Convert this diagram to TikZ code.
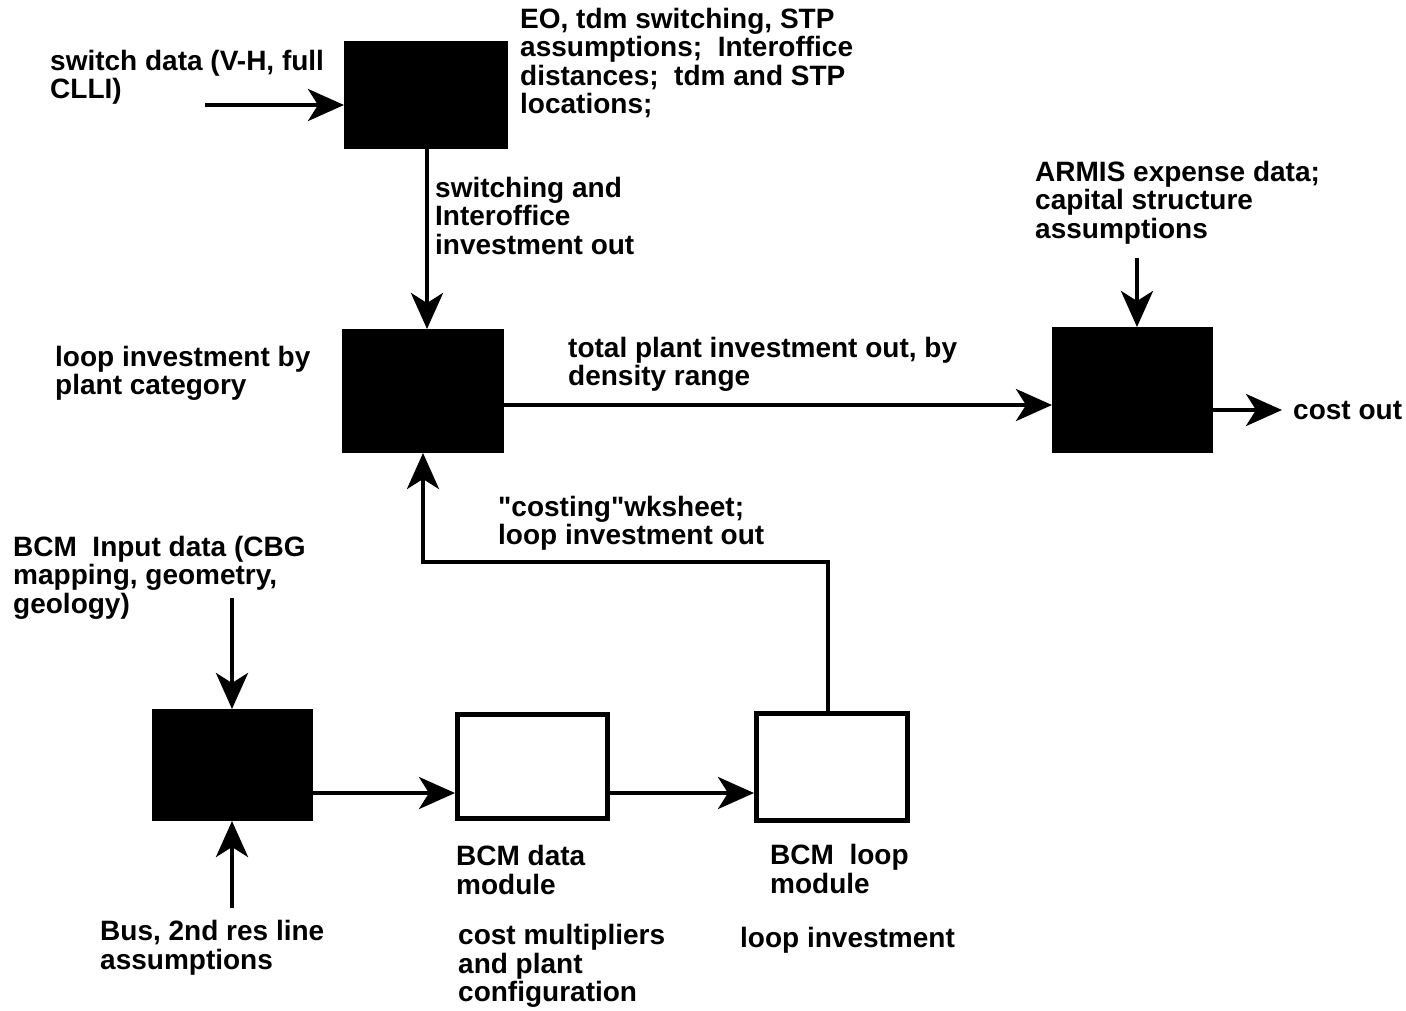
\documentclass[tikz,border=0pt]{standalone}
\usepackage{fontspec}
\setmainfont{Liberation Sans}[Ligatures=TeXOff]
\usetikzlibrary{arrows.meta}
\begin{document}
\begin{tikzpicture}[x=1pt,y=-1pt,
  blk/.style={draw=black,fill=black,line width=2pt,minimum width=#1,inner sep=0pt},
  wbox/.style={draw=black,fill=white,line width=5pt,inner sep=0pt},
  lbl/.style={anchor=north west,align=left,inner sep=0pt,font=\fontsize{28}{28.5}\selectfont\bfseries},
  conn/.style={line width=4pt,-{Stealth[length=36pt,width=32pt,inset=10pt]}}]
\useasboundingbox (0,0) rectangle (1406,1010);
% boxes
\node[blk=162pt,minimum height=106pt] (b1) at (426,95) {};
\node[blk=160pt,minimum height=122pt] (b2) at (423,391) {};
\node[blk=159pt,minimum height=124pt] (b3) at (1132.5,390) {};
\node[blk=159pt,minimum height=110pt] (b4) at (232.5,765) {};
\node[wbox,minimum width=150pt,minimum height=104pt] (b5) at (532.5,766.5) {};
\node[wbox,minimum width=151pt,minimum height=107pt] (b6) at (832,767) {};
% free ends
\coordinate (swin) at (205,105);
\coordinate (armin) at (1137,258);
\coordinate (costend) at (1282,410);
\coordinate (bcmin) at (232,598);
\coordinate (busin) at (232,908);
\coordinate (corner1) at (828,562);
\coordinate (corner2) at (423,562);
% connectors
\draw[conn] (swin) -- (swin -| b1.west);
\draw[conn] (b1.south -| 427,0) -- (b2.north -| 427,0);
\draw[conn] (b2.east |- 0,405) -- (b3.west |- 0,405);
\draw[conn] (b3.east |- 0,410) -- (costend);
\draw[conn] (armin) -- (armin |- b3.north);
\draw[conn] (b6.north -| corner1) -- (corner1) -- (corner2) -- (corner2 |- b2.south);
\draw[conn] (bcmin) -- (bcmin |- b4.north);
\draw[conn] (busin) -- (busin |- b4.south);
\draw[conn] (b4.east |- 0,793) -- (b5.west |- 0,793);
\draw[conn] (b5.east |- 0,793) -- (b6.west |- 0,793);
% labels
\node[lbl] (t1) at (50,50) {switch data (V-H, full\\CLLI)};
\node[lbl] (t2) at (520,8) {EO, tdm switching, STP\\assumptions;\ \ Interoffice\\distances;\ \ tdm and STP\\locations;};
\node[lbl] (t3) at (435,177) {switching and\\Interoffice\\investment out};
\node[lbl] (t4) at (1035,161) {ARMIS expense data;\\capital structure\\assumptions};
\node[lbl] (t5) at (55,346) {loop investment by\\plant category};
\node[lbl] (t6) at (568,337) {total plant investment out, by\\density range};
\node[lbl] (t7) at (1293,401) {cost out};
\node[lbl] (t8) at (498,496) {"costing"wksheet;\\loop investment out};
\node[lbl] (t9) at (13,536) {BCM\ \ Input data (CBG\\mapping, geometry,\\geology)};
\node[lbl] (t10) at (456,845) {BCM data\\module};
\node[lbl] (t11) at (770,844) {BCM\ \ loop\\module};
\node[lbl] (t12) at (100,920) {Bus, 2nd res line\\assumptions};
\node[lbl] (t13) at (458,924) {cost multipliers\\and plant\\configuration};
\node[lbl] (t14) at (740,927) {loop investment};
\end{tikzpicture}
\end{document}
